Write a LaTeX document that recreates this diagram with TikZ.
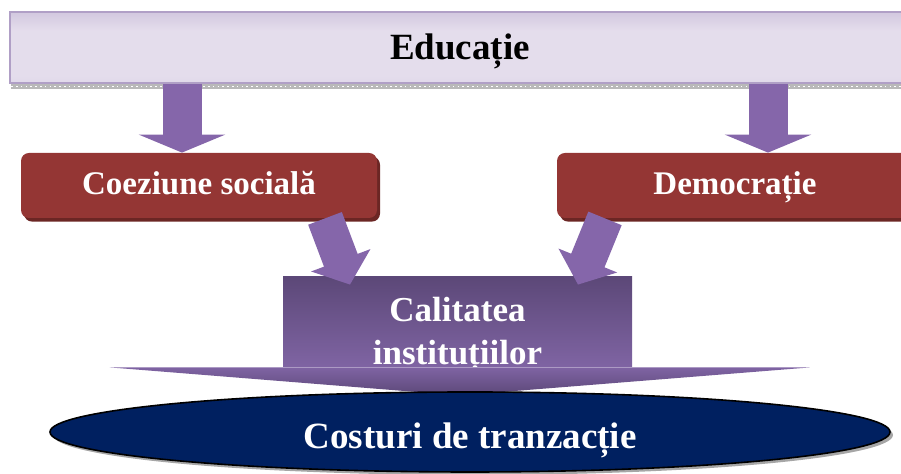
\documentclass[tikz,border=0pt]{standalone}
\usepackage{fontspec}
\setmainfont{Liberation Serif}
\usetikzlibrary{arrows, arrows.meta}
\usetikzlibrary{shapes.geometric, shadows}

\definecolor{lavdark}{HTML}{B09FC6}
\definecolor{lavlight}{HTML}{E4DDEC}
\definecolor{lavmid}{HTML}{CDC1DD}
\definecolor{reddark}{HTML}{943634}
\definecolor{redmid}{HTML}{C0504D}
\definecolor{redshadow}{HTML}{6B2624}
\definecolor{arrowpurple}{HTML}{8566AA}
\definecolor{instdark}{HTML}{5C4878}
\definecolor{instmid}{HTML}{7F64A3}
\definecolor{navy}{HTML}{002060}

\pgfdeclareverticalshading{barshade}{100bp}{color(0bp)=(lavmid); color(30bp)=(lavlight);
	color(62bp)=(lavlight); color(100bp)=(lavdark)}

\begin{document}
\begin{tikzpicture}[x=0.5pt, y=-0.5pt]

\clip (0, 0) rectangle (901, 474) ;

% education bar

\tikzstyle{bar} = [rectangle, minimum width=450pt, minimum height=35.5pt,
	shading=barshade, draw=lavdark, line width=.8pt, text height=15.5pt, text depth=3pt,
	font=\fontsize{18.5}{22}\selectfont\bfseries]

\node [bar] (edu) at (460, 47.5) {Educație} ;

\fill [gray!55] ([xshift=1pt]edu.south west) rectangle ([yshift=-2.5pt]edu.south east) ;
\draw [white, line width=.6pt, dash pattern=on .8pt off 1.6pt]
	([xshift=1pt, yshift=-1.25pt]edu.south west) -- ([yshift=-1.25pt]edu.south east) ;

% middle boxes

\tikzstyle{red box} = [rectangle, rounded corners=4pt, minimum width=178pt, minimum height=32.5pt,
	left color=reddark, middle color=redmid, right color=reddark, text=white,
	text height=12.5pt, text depth=3pt, font=\fontsize{16.5}{20}\selectfont\bfseries,
	general shadow={fill=redshadow, shadow xshift=1.5pt, shadow yshift=-1.8pt}]

\node [red box] (coez) at (199, 185.5) {Coeziune socială} ;
\node [red box] (dem) at (735, 185.5) {Democrație} ;

% arrows from the bar

\tikzstyle{down arrow} = [line width=19.5pt, arrowpurple, -{Triangle[length=9pt, width=43pt]}]

\coordinate (coez in) at ([xshift=-8.5pt]coez.north) ;
\coordinate (dem in) at ([xshift=16.5pt]dem.north) ;

\draw [down arrow] (coez in |- edu.south) -- (coez in) ;
\draw [down arrow] (dem in |- edu.south) -- (dem in) ;

% quality of institutions

\tikzstyle{inst box} = [rectangle, minimum width=174.5pt, minimum height=45pt,
	top color=instdark, bottom color=instmid]

\node [inst box, label={[yshift=-6.5pt, text=white, align=center,
	font=\fontsize{17.5}{21.5}\selectfont\bfseries]center:Calitatea\\instituțiilor}]
	(calit) at (457.5, 322) {} ;

\shade [top color=instmid, bottom color=instdark]
	(calit.south west) -- ++(-86.5pt, 0) -- ([yshift=-14pt, xshift=1pt]calit.south)
	-- ([xshift=89pt]calit.south east) -- (calit.south east) -- cycle ;

% arrows into the institutions

\tikzstyle{slant arrow} = [line width=18pt, arrowpurple, -{Triangle[length=13pt, width=31pt]}]

\coordinate (coez out) at ([xshift=63pt]coez.south) ;
\coordinate (dem out) at ([xshift=-65pt]dem.south) ;
\coordinate (calit left) at ([xshift=-53.75pt, yshift=-4pt]calit.north) ;
\coordinate (calit right) at ([xshift=60.25pt, yshift=-4pt]calit.north) ;

\draw [slant arrow] (coez out) -- (calit left) ;
\draw [slant arrow] (dem out) -- (calit right) ;

% transaction costs

\tikzstyle{cost ellipse} = [ellipse, minimum width=420pt, minimum height=40pt,
	fill=navy, draw=black, line width=.8pt, text=white,
	text height=19pt, text depth=2pt, font=\fontsize{18.5}{22}\selectfont\bfseries,
	drop shadow={fill=gray!70, opacity=1, shadow xshift=1.5pt, shadow yshift=-1.5pt}]

\node [cost ellipse] (cost) at (470, 432) {Costuri de tranzacție} ;

\end{tikzpicture}
\end{document}
